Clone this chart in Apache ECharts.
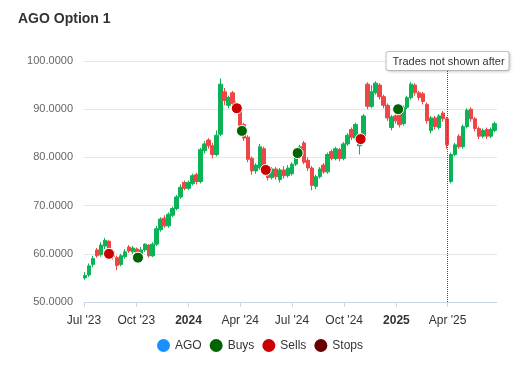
<!DOCTYPE html>
<html>
<head>
<meta charset="utf-8">
<script src="https://cdn.jsdelivr.net/npm/echarts@6/dist/echarts.min.js"></script>
<style>
html,body{margin:0;padding:0;background:#fff;}
#chart{width:530px;height:380px;}
</style>
</head>
<body>
<div id="chart"></div>
<script>
// Weekly candles starting this date
var startWeek = '2023-07-03';
var weekCount = 104;

var opens = [55.0,55.6,57.8,60.8,59.8,61.6,62.6,60.4,59.2,57.8,59.4,61.4,60.4,61.0,59.8,60.8,61.8,59.6,62.0,65.0,
67.4,65.8,68.0,69.4,71.8,74.8,73.6,74.6,76.4,75.0,81.4,83.6,82.4,80.6,84.8,93.6,90.8,93.4,91.2,89.6,
86.8,84.2,79.8,77.2,77.8,81.8,77.4,75.8,77.6,75.4,77.4,76.2,76.6,78.6,80.2,83.0,79.4,77.8,74.0,76.0,
78.4,77.0,81.2,79.8,81.6,79.8,82.8,85.8,84.0,82.4,84.2,95.2,90.6,93.4,95.0,92.6,90.8,86.2,88.6,89.4,
87.0,90.4,92.4,95.0,93.4,93.2,91.0,85.6,88.2,86.2,89.2,88.0,75.0,80.6,84.4,82.2,86.4,90.0,88.0,86.0,
84.4,85.8,84.4,85.6];
var closes = [55.5,57.5,59.0,59.6,61.8,62.8,60.2,59.4,57.6,59.6,60.4,60.6,61.2,59.8,60.8,62.0,59.6,62.0,65.2,67.2,
65.8,68.2,69.4,71.8,73.8,73.6,74.8,76.2,75.0,81.6,82.8,82.4,80.6,84.6,95.2,91.8,92.4,91.2,89.6,86.6,
84.0,79.6,77.2,78.4,82.2,77.4,75.8,77.6,76.0,77.4,76.2,77.8,78.6,80.2,82.2,79.0,77.8,74.2,76.0,77.6,
77.0,80.6,79.8,81.8,79.8,82.8,84.6,84.2,86.8,84.2,88.6,90.6,93.6,95.4,92.6,90.8,88.2,88.4,87.6,86.8,
90.4,92.4,95.2,93.4,92.4,91.6,87.6,88.2,86.4,88.6,88.0,82.6,80.6,82.6,82.2,86.4,89.8,88.0,86.0,84.4,
85.6,84.4,85.8,87.0];
var lows = [54.6,55.2,57.2,59.2,59.4,61.0,59.8,58.8,56.6,57.4,59.0,60.2,60.0,59.2,59.4,60.4,59.2,59.3,61.6,64.6,
65.4,65.4,67.6,69.0,71.4,73.2,73.2,74.2,74.4,74.6,80.8,81.8,79.8,80.2,84.4,90.8,90.2,90.8,89.0,86.0,
83.4,79.0,76.4,76.6,77.4,76.8,75.2,75.4,75.4,74.8,75.6,75.8,76.2,78.2,79.8,78.6,77.2,73.2,73.4,75.6,
76.6,76.6,79.4,79.4,79.2,79.4,82.4,83.6,83.6,80.6,83.8,90.0,90.2,93.0,92.0,90.2,87.6,85.6,87.0,86.2,
86.6,90.0,92.0,92.8,91.8,91.0,87.0,85.0,85.8,85.8,87.4,81.8,74.6,80.2,81.8,81.8,86.0,87.4,85.4,83.8,
84.0,83.8,84.0,85.2];
var highs = [56.2,58.0,59.6,61.2,62.4,63.3,62.9,61.0,59.6,60.0,61.0,61.8,61.6,61.3,61.4,62.2,62.0,62.4,65.8,67.6,
68.0,68.6,69.8,72.2,74.4,75.2,75.2,76.6,76.8,82.0,83.4,84.0,83.0,85.6,96.4,94.4,92.8,93.8,91.6,90.0,
87.2,84.6,80.2,78.8,82.8,82.2,77.8,78.0,78.0,77.8,78.2,78.4,79.0,80.6,82.6,83.4,80.0,78.2,76.4,78.0,
78.8,81.0,81.6,82.2,82.0,83.2,85.0,86.2,87.2,84.6,89.0,95.6,95.0,95.8,95.4,93.0,91.2,88.8,89.0,89.8,
90.8,92.8,95.6,95.4,93.8,93.6,91.4,88.6,88.6,89.0,89.6,88.4,81.0,83.0,84.8,86.8,90.2,90.4,88.4,86.4,
86.0,86.2,86.2,87.4];

var buyDates = ['2023-10-04','2024-04-04','2024-07-11','2025-01-04'];
var buyValues = [59.2,85.5,80.9,90.0];
var sellDates = ['2023-08-14','2024-03-26','2024-05-16','2024-10-30'];
var sellValues = [60.0,90.2,77.4,83.8];
var stopDates = [];
var stopValues = [];

var tickDates = ['2023-07-01','2023-10-01','2024-01-01','2024-04-01','2024-07-01','2024-10-01','2025-01-01','2025-04-01'];
var tickLabels = ["Jul '23","Oct '23","2024","Apr '24","Jul '24","Oct '24","2025","Apr '25"];
var tradesCutoff = '2025-04-01';
var axisStart = '2023-07-01';
var axisEnd = '2025-06-27';

var DAY = 86400000;
var t0 = Date.parse(startWeek);
var candleData = [];
for (var i = 0; i < weekCount; i++) {
  candleData.push([t0 + i * 7 * DAY, opens[i], closes[i], lows[i], highs[i]]);
}
function pts(d, v) { return d.map(function (s, k) { return [Date.parse(s), v[k]]; }); }
var tickTimes = tickDates.map(function (s) { return Date.parse(s); });
var FONT = 'Liberation Sans, Arial, sans-serif';

var chart = echarts.init(document.getElementById('chart'));
chart.setOption({
  animation: false,
  title: {
    text: 'AGO Option 1', left: 13, top: 7,
    textStyle: { fontSize: 14, fontWeight: 'bold', color: '#333', fontFamily: FONT }
  },
  legend: {
    top: 334, left: 152, icon: 'circle', itemWidth: 13, itemHeight: 13, itemGap: 8,
    textStyle: { fontSize: 12, color: '#333', fontFamily: FONT },
    data: [
      { name: 'AGO', itemStyle: { color: '#1a90ff', borderWidth: 0, opacity: 1 } },
      { name: 'Buys', itemStyle: { color: '#006400', borderWidth: 0, opacity: 1 } },
      { name: 'Sells', itemStyle: { color: '#cc0000', borderWidth: 0, opacity: 1 } },
      { name: 'Stops', itemStyle: { color: '#660000', borderWidth: 0, opacity: 1 } }
    ]
  },
  grid: { left: 84, right: 33, top: 61, bottom: 78 },
  xAxis: {
    type: 'value', scale: true,
    min: Date.parse(axisStart), max: Date.parse(axisEnd),
    axisLine: { show: true, onZero: false, lineStyle: { color: '#ccd6eb' } },
    axisTick: { show: true, customValues: tickTimes, length: 5, lineStyle: { color: '#ccd6eb' } },
    splitLine: { show: false },
    axisLabel: {
      customValues: tickTimes, margin: 13, fontSize: 12, color: '#333', fontFamily: FONT,
      showMinLabel: true, showMaxLabel: true,
      formatter: function (v) {
        var idx = tickTimes.indexOf(v);
        if (idx < 0) return '';
        var s = tickLabels[idx];
        return /^\d{4}$/.test(s) ? '{b|' + s + '}' : s;
      },
      rich: { b: { fontWeight: 'bold', fontSize: 12, color: '#333', fontFamily: FONT } }
    }
  },
  yAxis: {
    type: 'value', min: 50, max: 100, interval: 10,
    axisLine: { show: false }, axisTick: { show: false },
    splitLine: { lineStyle: { color: '#e6e6e6' } },
    axisLabel: {
      margin: 11, fontSize: 11, color: '#666', fontFamily: FONT,
      formatter: function (v) { return v.toFixed(4); }
    }
  },
  series: [
    {
      name: 'AGO', type: 'candlestick', data: candleData, barWidth: 4,
      itemStyle: { color: '#0cb356', color0: '#ee4646', borderColor: '#0cb356', borderColor0: '#ee4646', borderWidth: 1 },
      markLine: {
        silent: true, symbol: 'none', animation: false,
        lineStyle: { type: 'dotted', color: '#3b3bd8', width: 1 },
        label: {
          show: true, position: 'end', distance: -9, formatter: 'Trades not shown after',
          fontSize: 11, color: '#333', fontFamily: FONT,
          backgroundColor: '#fff', borderColor: '#c8c8c8', borderWidth: 1, borderRadius: 2,
          padding: [4, 4, 3, 6], shadowBlur: 3, shadowColor: 'rgba(0,0,0,0.15)', shadowOffsetX: 1, shadowOffsetY: 1
        },
        emphasis: { disabled: true },
        data: [{ xAxis: Date.parse(tradesCutoff) }]
      }
    },
    {
      name: 'Buys', type: 'scatter', data: pts(buyDates, buyValues), symbolSize: 11, z: 5,
      itemStyle: { color: '#006400', borderColor: '#fff', borderWidth: 1, opacity: 1 }
    },
    {
      name: 'Sells', type: 'scatter', data: pts(sellDates, sellValues), symbolSize: 11, z: 5,
      itemStyle: { color: '#cc0000', borderColor: '#fff', borderWidth: 1, opacity: 1 }
    },
    {
      name: 'Stops', type: 'scatter', data: pts(stopDates, stopValues), symbolSize: 11, z: 5,
      itemStyle: { color: '#660000', borderColor: '#fff', borderWidth: 1, opacity: 1 }
    }
  ]
});
</script>
</body>
</html>
